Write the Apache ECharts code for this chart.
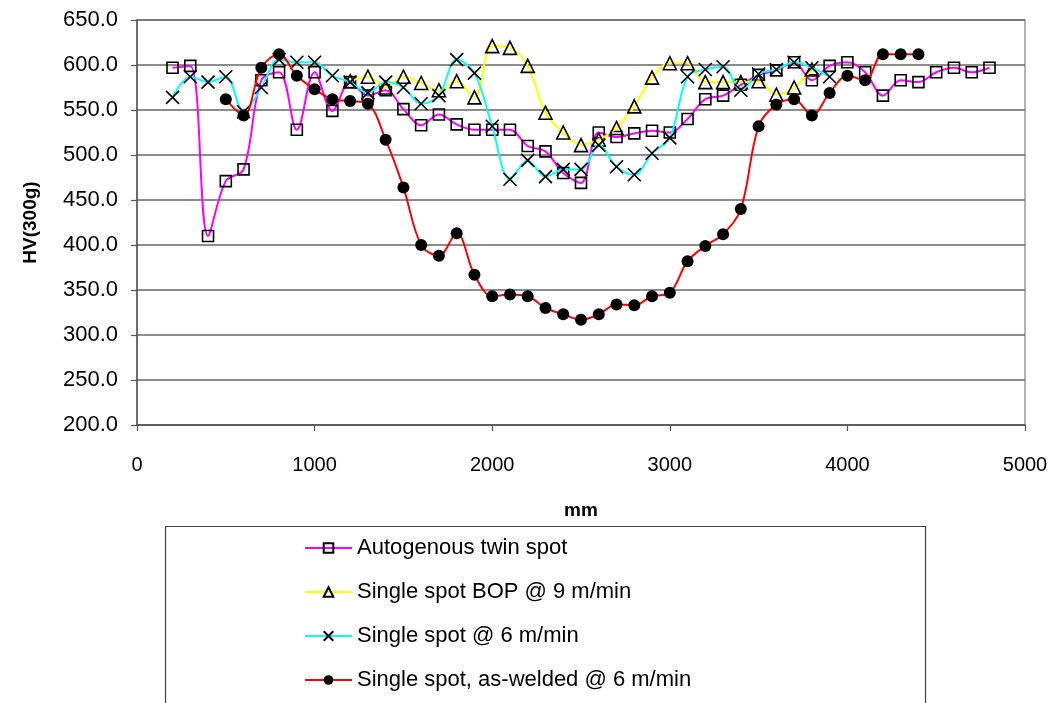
<!DOCTYPE html>
<html><head><meta charset="utf-8">
<script src="https://cdn.jsdelivr.net/npm/echarts@6/dist/echarts.min.js"></script>
<style>html,body{margin:0;padding:0;background:#fff}#c{width:1059px;height:703px}</style>
</head><body><div id="c"></div>
<script>
const names = ['Autogenous twin spot','Single spot BOP @ 9 m/min','Single spot @ 6 m/min','Single spot, as-welded @ 6 m/min'];
const twinX = [200,300,400,500,600,700,800,900,1000,1100,1200,1300,1400,1500,1600,1700,1800,1900,2000,2100,2200,2300,2400,2500,2600,2700,2800,2900,3000,3100,3200,3300,3400,3500,3600,3700,3800,3900,4000,4100,4200,4300,4400,4500,4600,4700,4800];
const twinY = [597,599,410,471,484,583,592,528,592,549,581,566,572,551,533,545,534,528,528,528,510,504,480,469,525,520,524,527,525,540,562,566,578,589,594,603,583,599,603,592,566,583,581,592,597,592,597];
const bopX = [1200,1300,1400,1500,1600,1700,1800,1900,2000,2100,2200,2300,2400,2500,2600,2700,2800,2900,3000,3100,3200,3300,3400,3500,3600,3700,3800];
const bopY = [582,587,575,587,580,572,582,564,621,619,599,547,525,511,517,530,554,586,602,602,581,581,581,582,567,575,595];
const s6X = [200,300,400,500,600,700,800,900,1000,1100,1200,1300,1400,1500,1600,1700,1800,1900,2000,2100,2200,2300,2400,2500,2600,2700,2800,2900,3000,3100,3200,3300,3400,3500,3600,3700,3800,3900];
const s6Y = [564,587,581,587,548,575,606,603,603,588,581,569,581,575,557,566,606,591,532,473,494,476,484,484,511,487,478,502,519,587,595,598,572,590,595,603,597,587];
const awX = [500,600,700,800,900,1000,1100,1200,1300,1400,1500,1600,1700,1800,1900,2000,2100,2200,2300,2400,2500,2600,2700,2800,2900,3000,3100,3200,3300,3400,3500,3600,3700,3800,3900,4000,4100,4200,4300,4400];
const awY = [562,544,597,612,588,573,562,560,557,517,464,400,388,413,367,343,345,343,330,323,317,323,334,333,343,347,382,399,412,440,532,556,562,544,569,588,583,612,612,612];
const xTicks = [0,1000,2000,3000,4000,5000];
const yTicks = [200,250,300,350,400,450,500,550,600,650];

const pairs = (xs, ys) => xs.map((x, i) => [x, ys[i]]);
const crossPath = 'path://M0,0L10,10M10,0L0,10';
const FONT = 'Liberation Sans, Arial, sans-serif';

const chart = echarts.init(document.getElementById('c'), null, {renderer: 'canvas'});
const base = {type: 'line', smooth: 0.35, lineStyle: {width: 2}, emphasis: {disabled: true}};
chart.setOption({
  animation: false,
  backgroundColor: '#fff',
  grid: {left: 137, right: 34, top: 20, bottom: 278, show: true, borderColor: '#999', borderWidth: 1.5, backgroundColor: 'transparent'},
  xAxis: {
    type: 'value', min: xTicks[0], max: xTicks[xTicks.length - 1], interval: 1000,
    name: 'mm', nameLocation: 'middle', nameGap: 76,
    nameTextStyle: {fontFamily: FONT, fontSize: 19, fontWeight: 'bold', color: '#000'},
    axisLine: {show: true, lineStyle: {color: '#555', width: 1.5}},
    axisTick: {show: true, length: 6, lineStyle: {color: '#555', width: 1.2}},
    axisLabel: {fontFamily: FONT, fontSize: 20, color: '#000', margin: 30, formatter: v => String(v)},
    splitLine: {show: false}
  },
  yAxis: {
    type: 'value', min: yTicks[0], max: yTicks[yTicks.length - 1], interval: 50,
    name: 'HV(300g)', nameLocation: 'middle', nameGap: 97, nameRotate: 90,
    nameTextStyle: {fontFamily: FONT, fontSize: 19, fontWeight: 'bold', color: '#000'},
    axisLine: {show: true, lineStyle: {color: '#555', width: 1.5}},
    axisTick: {show: true, length: 6, lineStyle: {color: '#555', width: 1.2}},
    axisLabel: {fontFamily: FONT, fontSize: 22, color: '#000', margin: 19, formatter: v => v.toFixed(1)},
    splitLine: {show: true, lineStyle: {color: '#666', width: 1.5}}
  },
  graphic: [{type: 'rect', shape: {x: 165.5, y: 526.5, width: 760, height: 200}, style: {fill: 'none', stroke: '#444', lineWidth: 1.2}, silent: true, z: 0}],
  legend: {
    orient: 'vertical', left: 304, top: 537, height: 170, padding: 0, itemWidth: 47, itemHeight: 12, itemGap: 22,
    textStyle: {fontFamily: FONT, fontSize: 22, color: '#000', padding: [0, 0, 0, 0]},
    selectedMode: false, data: names
  },
  series: [
    Object.assign({}, base, {name: names[0], data: pairs(twinX, twinY), color: '#FF00FF', lineStyle: {width: 2, color: '#FF00FF'},
      symbol: 'rect', symbolSize: 11, itemStyle: {color: 'rgba(255,255,255,0)', borderColor: '#000', borderWidth: 1.6}, z: 2}),
    Object.assign({}, base, {name: names[1], data: pairs(bopX, bopY), color: '#FFFF00', lineStyle: {width: 2, color: '#FFFF00'},
      symbol: 'triangle', symbolSize: 13, itemStyle: {color: 'rgba(255,255,255,0)', borderColor: '#000', borderWidth: 1.6}, z: 3}),
    Object.assign({}, base, {name: names[2], data: pairs(s6X, s6Y), color: '#00FFFF', lineStyle: {width: 2, color: '#00FFFF'},
      symbol: crossPath, symbolSize: 13, itemStyle: {color: 'rgba(0,0,0,0)', borderColor: '#000', borderWidth: 1.6}, z: 4}),
    Object.assign({}, base, {name: names[3], data: pairs(awX, awY), color: '#FF0000', lineStyle: {width: 2, color: '#FF0000'},
      symbol: 'circle', symbolSize: 12, itemStyle: {color: '#000', borderColor: '#000', borderWidth: 0}, z: 5})
  ]
});
</script></body></html>
